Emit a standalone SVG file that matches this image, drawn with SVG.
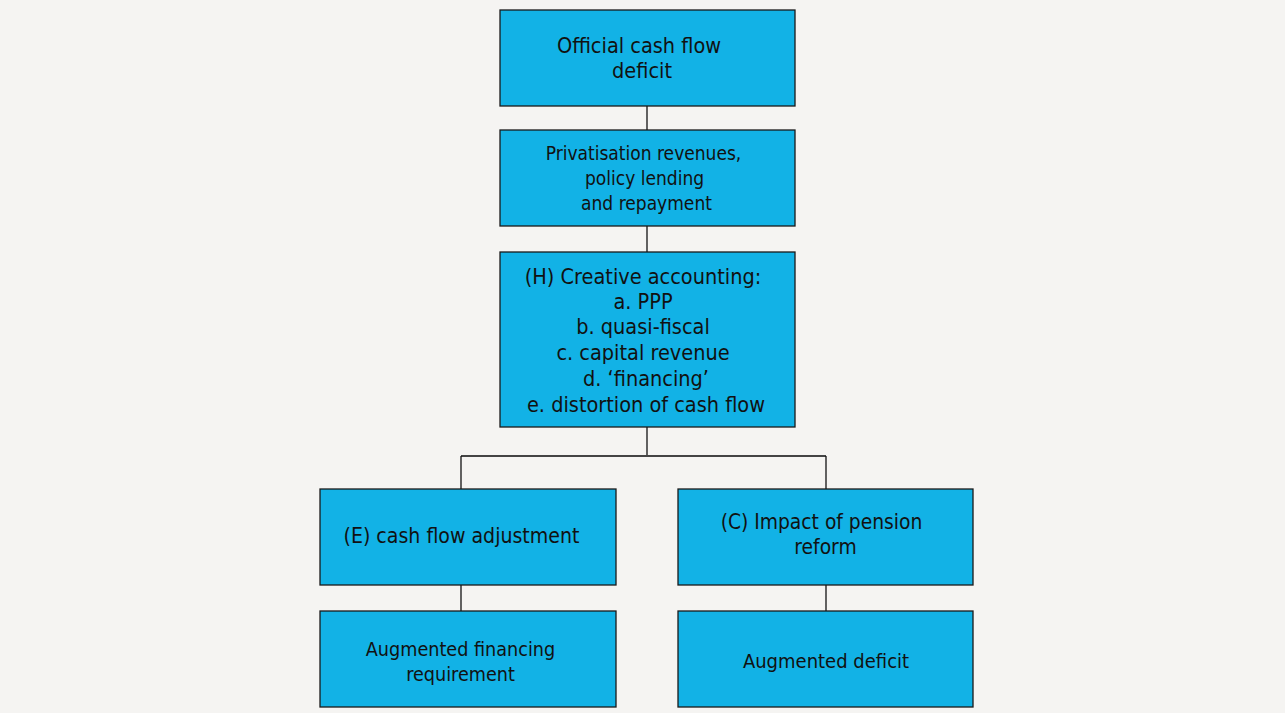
<svg xmlns="http://www.w3.org/2000/svg" width="1285" height="713" viewBox="0 0 1285 713">
<style>
.box{fill:#12B2E6;stroke:#1a1a1a;stroke-width:1.3}
.t{font-family:"DejaVu Sans Condensed","DejaVu Sans",sans-serif;font-size:19px;fill:#111;text-anchor:middle;dominant-baseline:central}
.l{font-size:21.5px}
.m{font-size:20px}
.c{stroke:#111;stroke-width:1.3;fill:none}
</style>
<rect x="0" y="0" width="1285" height="713" fill="#F5F4F2"/>
<g id="connectors">
<line class="c" x1="647" y1="106" x2="647" y2="130"/>
<line class="c" x1="647" y1="226" x2="647" y2="252"/>
<line class="c" x1="647" y1="427" x2="647" y2="456"/>
<line x1="461" y1="456" x2="826" y2="456" stroke="#444" stroke-width="2"/>
<line class="c" x1="461" y1="456" x2="461" y2="489"/>
<line class="c" x1="826" y1="456" x2="826" y2="489"/>
<line class="c" x1="461" y1="585" x2="461" y2="611"/>
<line class="c" x1="826" y1="585" x2="826" y2="611"/>
</g>
<g id="n1"><rect class="box" x="500" y="10" width="295" height="96"/>
<text class="t l" x="639" y="45">Official cash flow</text><text class="t l" x="642" y="70">deficit</text></g>
<g id="n2"><rect class="box" x="500" y="130" width="295" height="96"/>
<text class="t" x="643.5" y="153">Privatisation revenues,</text><text class="t" x="644.5" y="178">policy lending</text><text class="t" x="646.5" y="203">and repayment</text></g>
<g id="n3"><rect class="box" x="500" y="252" width="295" height="175"/>
<text class="t l" x="643" y="276">(H) Creative accounting:</text>
<text class="t l" x="643" y="301">a. PPP</text>
<text class="t l" x="643" y="326">b. quasi-fiscal</text>
<text class="t l" x="643" y="352">c. capital revenue</text>
<text class="t l" x="646" y="378">d. ‘financing’</text>
<text class="t l" x="646" y="404">e. distortion of cash flow</text></g>
<g id="n4"><rect class="box" x="320" y="489" width="296" height="96"/>
<text class="t" style="font-size:21.1px" x="461.5" y="535">(E) cash flow adjustment</text></g>
<g id="n5"><rect class="box" x="678" y="489" width="295" height="96"/>
<text class="t" style="font-size:20.8px" x="821.5" y="522">(C) Impact of pension</text><text class="t" style="font-size:20.8px" x="825.5" y="547">reform</text></g>
<g id="n6"><rect class="box" x="320" y="611" width="296" height="96"/>
<text class="t" style="font-size:19.6px" x="460.5" y="649">Augmented financing</text><text class="t" style="font-size:19.6px" x="460.5" y="674">requirement</text></g>
<g id="n7"><rect class="box" x="678" y="611" width="295" height="96"/>
<text class="t m" x="826" y="661">Augmented deficit</text></g>
</svg>
